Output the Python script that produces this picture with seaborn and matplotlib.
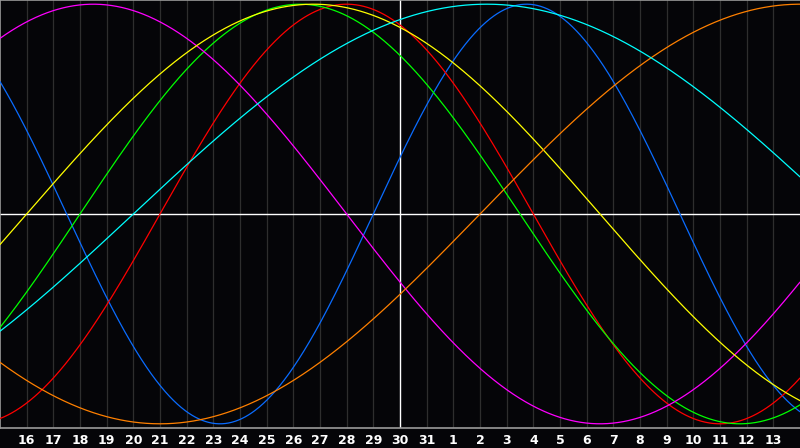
"""Biorhythm chart: seven cycles around the centre day."""
import numpy as np
import pandas as pd
import matplotlib
matplotlib.use('Agg')
import matplotlib.pyplot as plt
import seaborn as sns

# day numbers shown under the grid, left to right (offset -14 .. +14)
day_labels = [16, 17, 18, 19, 20, 21, 22, 23, 24, 25, 26, 27, 28, 29, 30, 31,
              1, 2, 3, 4, 5, 6, 7, 8, 9, 10, 11, 12, 13]
cycle_names = ['Physical', 'Emotional', 'Intellectual', 'Intuitive',
               'Aesthetic', 'Awareness', 'Spiritual']
cycle_days = [23, 28, 33, 38, 43, 48, 53]
cycle_colors = ['#0a6cff', '#ff0000', '#00ff00', '#ff00ff',
                '#ffff00', '#ff8000', '#00ffff']
days_alive = 23277  # days since birth on the centre day (30)

bg = '#050508'
offsets = np.linspace(-15, 15, 1201)
rows = []
for name, period in zip(cycle_names, cycle_days):
    for d in offsets:
        rows.append((name, d, np.sin(2 * np.pi * (days_alive + d) / period)))
df = pd.DataFrame(rows, columns=['cycle', 'offset', 'value'])

sns.set_style('dark')
plt.rcParams['font.family'] = ['DejaVu Sans']
fig = plt.figure(figsize=(8, 4.48), dpi=100, facecolor=bg)
ax = fig.add_axes([0, 20 / 448, 1, 428 / 448])
ax.set_facecolor(bg)

# day grid
tick_pos = list(range(-14, 15))
for t in tick_pos:
    if t != 0:
        ax.axvline(t, color='#2e2e2e', lw=0.9, zorder=1)
ax.axvline(0, color='white', lw=1, zorder=2)
ax.axhline(0, color='white', lw=1, zorder=2)

sns.lineplot(data=df, x='offset', y='value', hue='cycle',
             hue_order=cycle_names, palette=cycle_colors, lw=0.9,
             legend=False, ax=ax, zorder=3)

ax.set_xlim(-15, 15)
ax.set_ylim(-1.02, 1.02)
ax.set_xticks(tick_pos)
ax.set_xticklabels([str(d) for d in day_labels])
ax.set_yticks([])
ax.set(xlabel='', ylabel='')
ax.grid(False)
ax.tick_params(axis='x', length=0, pad=4, colors='white', labelsize=9)
for lab in ax.get_xticklabels():
    lab.set_fontweight('bold')
for side in ['left', 'top', 'bottom']:
    ax.spines[side].set_color('#9a9a9a')
    ax.spines[side].set_linewidth(1.2)
ax.spines['right'].set_visible(False)

fig.savefig('out.png', dpi=100, facecolor=bg)
